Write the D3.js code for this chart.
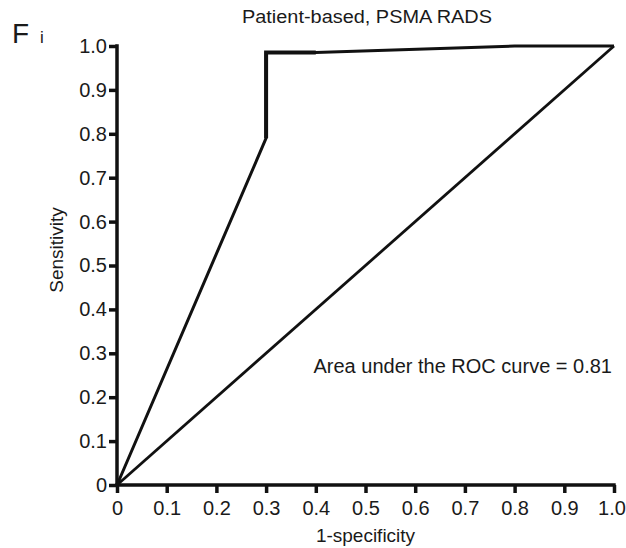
<!DOCTYPE html>
<html><head><meta charset="utf-8">
<script src="https://cdn.jsdelivr.net/npm/d3@7/dist/d3.min.js"></script>
<style>body{margin:0;background:#fff}svg{display:block}text{font-family:"Liberation Sans",Arial,sans-serif;fill:#1a1a1a}</style>
</head><body>
<script>
const fpr = [0, 0.3, 0.3, 0.4, 0.8, 1.0];
const tpr = [0, 0.79, 0.985, 0.985, 1.0, 1.0];
const refFpr = [0, 1];
const refTpr = [0, 1];
const ticks = [0, 0.1, 0.2, 0.3, 0.4, 0.5, 0.6, 0.7, 0.8, 0.9, 1.0];
const tickLabels = ["0","0.1","0.2","0.3","0.4","0.5","0.6","0.7","0.8","0.9","1.0"];

const W = 626, H = 548;
const svg = d3.select("body").append("svg").attr("width", W).attr("height", H);
const x = d3.scaleLinear().domain([0, 1]).range([117, 614]);
const y = d3.scaleLinear().domain([0, 1]).range([485, 46]);

const xAxis = svg.append("g").attr("transform", `translate(0,${y(0)})`)
  .call(d3.axisBottom(x).tickValues(ticks).tickFormat((d,i)=>tickLabels[i]).tickSize(8).tickPadding(8).tickSizeOuter(0));
const yAxis = svg.append("g").attr("transform", `translate(${x(0)},0)`)
  .call(d3.axisLeft(y).tickValues(ticks).tickFormat((d,i)=>tickLabels[i]).tickSize(8).tickPadding(2).tickSizeOuter(0));
[xAxis, yAxis].forEach(g => {
  g.select(".domain").attr("stroke", "#111").attr("stroke-width", 3.5);
  g.selectAll(".tick line").attr("stroke", "#111").attr("stroke-width", 3.5);
  g.selectAll(".tick text").style("font-size", "20px").attr("fill", "#1a1a1a");
});
xAxis.selectAll(".tick text").filter(d => d === 1).attr("dx", "-2.5");
xAxis.select(".domain").attr("d", `M${x(0)-1.7},0H${x(1)+1.7}`);
yAxis.select(".domain").attr("d", `M0,${y(0)+1.7}V${y(1)-1.7}`);

const line = d3.line().x(d => x(d[0])).y(d => y(d[1]));
svg.append("path").datum(refFpr.map((v,i)=>[v, refTpr[i]]))
  .attr("d", line).attr("fill","none").attr("stroke","#111").attr("stroke-width",2.8);
svg.append("path").datum(fpr.map((v,i)=>[v, tpr[i]]))
  .attr("d", line).attr("fill","none").attr("stroke","#111").attr("stroke-width",3)
  .attr("stroke-linejoin","round");
svg.append("path").datum(fpr.slice(1,4).map((v,i)=>[v, tpr[i+1]]))
  .attr("d", line).attr("fill","none").attr("stroke","#111").attr("stroke-width",4)
  .attr("stroke-linejoin","miter");

svg.append("text").attr("x", 242).attr("y", 23)
  .attr("textLength", 250).attr("lengthAdjust", "spacingAndGlyphs")
  .style("font-size","17.5px").text("Patient-based, PSMA RADS");
svg.append("text").attr("x", 12).attr("y", 43).style("font-size","28px").text("F");
svg.append("text").attr("x", 40).attr("y", 43).style("font-size","17px").text("i");
svg.append("text").attr("x", x(0.5)).attr("y", 542).attr("text-anchor","middle")
  .style("font-size","19px").text("1-specificity");
svg.append("text").attr("transform", `translate(63,250) rotate(-90)`).attr("text-anchor","middle")
  .style("font-size","19px").text("Sensitivity");
svg.append("text").attr("x", 612).attr("y", 373).attr("text-anchor","end")
  .style("font-size","20px").text("Area under the ROC curve = 0.81");
</script>
</body></html>
